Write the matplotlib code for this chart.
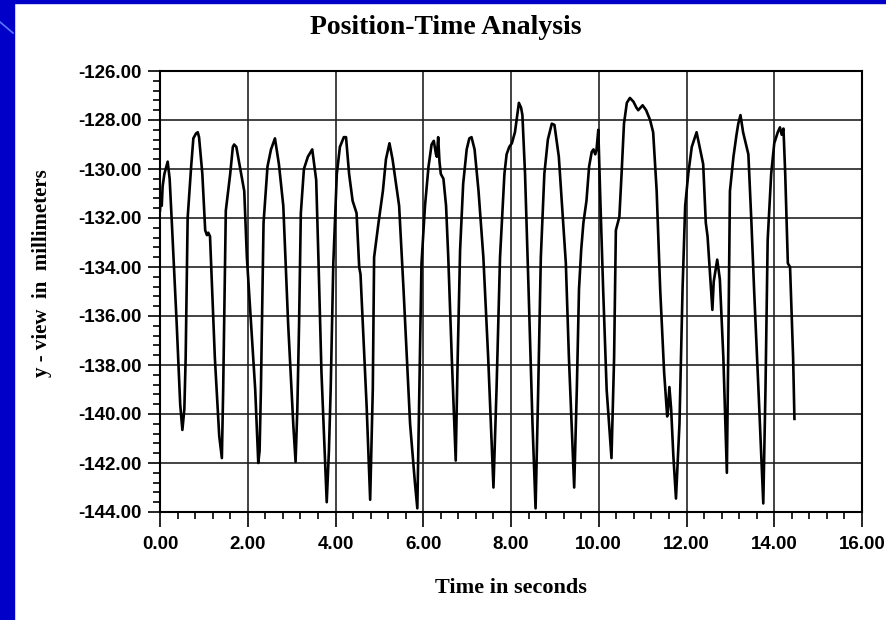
import numpy as np
import matplotlib.pyplot as plt
from matplotlib.lines import Line2D
from matplotlib.patches import Rectangle
from matplotlib.ticker import MultipleLocator, FormatStrFormatter

# time (s) and y-view position (mm)
t = [0.00, 0.02, 0.04, 0.06, 0.10, 0.175, 0.22, 0.27, 0.38, 0.46, 0.51,
     0.555, 0.585, 0.63, 0.71, 0.76, 0.82, 0.86, 0.89, 0.965, 1.03, 1.07, 1.10, 1.14, 1.25, 1.35, 1.41,
     1.44, 1.50, 1.60, 1.66, 1.69, 1.74, 1.85, 1.92, 1.98, 2.17, 2.24,
     2.27, 2.30, 2.36, 2.45, 2.53, 2.62, 2.71, 2.81, 2.92, 3.04, 3.09,
     3.13, 3.17, 3.21, 3.28, 3.37, 3.47, 3.56, 3.61, 3.68, 3.80,
     3.85, 3.89, 3.95, 4.03, 4.10, 4.19, 4.24, 4.31, 4.39, 4.48, 4.54, 4.57, 4.71, 4.79,
     4.85, 4.88, 4.98, 5.08, 5.15, 5.23, 5.30, 5.45, 5.55, 5.70, 5.81, 5.865,
     5.91, 5.96, 6.04, 6.12, 6.19, 6.24, 6.29, 6.31, 6.34, 6.37, 6.40, 6.46, 6.52, 6.57, 6.65, 6.74,
     6.785, 6.84, 6.91, 6.99, 7.05, 7.10, 7.17, 7.26, 7.37, 7.48, 7.60,
     7.67, 7.75, 7.85, 7.90, 7.96, 8.02, 8.09, 8.12, 8.18, 8.23, 8.26, 8.32, 8.40, 8.49, 8.56,
     8.62, 8.68, 8.76, 8.84, 8.93, 8.99, 9.09, 9.19, 9.25, 9.32, 9.44,
     9.50, 9.55, 9.60, 9.65, 9.72, 9.78, 9.84, 9.88, 9.92, 9.95, 9.99, 10.03, 10.10, 10.18, 10.29,
     10.35, 10.39, 10.47, 10.52, 10.575, 10.64, 10.71, 10.79, 10.86, 10.90, 11.00, 11.08, 11.17, 11.24,
     11.32, 11.40, 11.49, 11.56, 11.58, 11.61, 11.65, 11.70, 11.76,
     11.84, 11.91, 11.97, 12.04, 12.12, 12.23, 12.31, 12.38, 12.44, 12.48, 12.54, 12.59, 12.62, 12.70,
     12.76, 12.84, 12.92,
     12.95, 12.99, 13.07, 13.14, 13.18, 13.23, 13.29, 13.41, 13.48, 13.54, 13.64, 13.75,
     13.80, 13.85, 13.93, 14.00, 14.08, 14.13, 14.17, 14.21, 14.25, 14.31, 14.36, 14.43, 14.46]
yv = [-131.7, -131.0, -131.5, -130.7, -130.2, -129.7, -130.4, -132.2, -136.3, -139.6, -140.65,
      -139.8, -137.7, -132.0, -129.9, -128.75, -128.55, -128.5, -128.7, -130.2, -132.5, -132.7, -132.6, -132.75, -137.7, -140.9, -141.8,
      -139.0, -131.7, -130.2, -129.1, -129.0, -129.1, -130.2, -130.9, -133.6, -139.0, -142.0,
      -141.5, -139.0, -132.2, -129.9, -129.2, -128.75, -129.8, -131.5, -136.3, -140.5, -141.95,
      -139.8, -136.3, -131.8, -130.0, -129.5, -129.2, -130.45, -133.6, -138.3, -143.6,
      -141.5, -139.0, -133.85, -130.2, -129.1, -128.7, -128.7, -130.2, -131.3, -131.8, -134.0, -134.3, -139.7, -143.5,
      -139.0, -133.6, -132.2, -130.9, -129.6, -128.95, -129.6, -131.5, -134.9, -140.4, -142.8, -143.85,
      -139.0, -133.85, -131.5, -129.9, -129.0, -128.85, -129.4, -129.5, -128.7, -129.7, -130.2, -130.4, -131.5, -133.6, -137.7, -141.9,
      -137.7, -133.3, -130.6, -129.2, -128.75, -128.7, -129.2, -130.9, -133.6, -137.7, -143.0,
      -139.0, -133.6, -130.2, -129.4, -129.1, -128.95, -128.5, -128.1, -127.3, -127.5, -127.8, -130.2, -134.9, -140.4, -143.85,
      -139.0, -133.6, -130.2, -128.8, -128.15, -128.2, -129.5, -132.2, -133.85, -137.7, -143.0,
      -139.0, -134.9, -133.3, -132.2, -131.3, -129.9, -129.3, -129.2, -129.4, -129.2, -128.4, -130.9, -134.9, -139.0, -141.8,
      -137.7, -132.5, -131.95, -130.2, -128.15, -127.3, -127.1, -127.25, -127.5, -127.6, -127.4, -127.6, -128.0, -128.5,
      -130.9, -134.9, -138.3, -140.1, -139.8, -138.9, -139.8, -141.7, -143.45,
      -140.4, -134.9, -131.5, -130.2, -129.1, -128.5, -129.2, -129.8, -132.2, -132.75, -134.4, -135.75, -134.6, -133.7,
      -134.5, -137.7, -142.4,
      -137.7, -130.9, -129.5, -128.6, -128.15, -127.8, -128.5, -129.4, -132.2, -134.9, -139.0, -143.65,
      -139.0, -132.9, -130.2, -128.95, -128.5, -128.3, -128.6, -128.35, -130.2, -133.85, -134.0, -137.7, -140.2]

fig = plt.figure(figsize=(8.86, 6.2), dpi=100)
fig.patch.set_facecolor("white")

# slide background: blue strips on the left and top
blue = "#0000c8"
fig.patches.append(Rectangle((0, 0), 14 / 886, 1, transform=fig.transFigure, color=blue, zorder=0))
fig.patches.append(Rectangle((0, 1 - 3 / 620), 1, 3 / 620, transform=fig.transFigure, color=blue, zorder=0))
fig.lines.append(Line2D([0, 13 / 886], [1 - 22 / 620, 1 - 33 / 620], transform=fig.transFigure,
                        color="#5a78ff", lw=1.2))

ax = fig.add_axes([160 / 886, 1 - 512 / 620, 702 / 886, 441 / 620])
ax.plot(t, yv, color="black", lw=1.9, zorder=3, solid_joinstyle="round")

ax.set_xlim(0, 16)
ax.set_ylim(-144, -126)
ax.xaxis.set_major_locator(MultipleLocator(2))
ax.xaxis.set_minor_locator(MultipleLocator(0.4))
ax.yaxis.set_major_locator(MultipleLocator(2))
ax.yaxis.set_minor_locator(MultipleLocator(0.4))
ax.xaxis.set_major_formatter(FormatStrFormatter("%.2f"))
ax.yaxis.set_major_formatter(FormatStrFormatter("%.2f"))
ax.grid(True, which="major", color="#222222", lw=1.2, zorder=1)
for s in ax.spines.values():
    s.set_linewidth(1.5)
ax.tick_params(axis="x", which="major", length=11, width=1.2, pad=6)
ax.tick_params(axis="y", which="major", length=9, width=1.2, pad=4)
ax.tick_params(which="minor", length=5, width=1.2)
for lab in ax.get_xticklabels() + ax.get_yticklabels():
    lab.set_fontfamily("Liberation Sans")
    lab.set_fontweight("bold")
    lab.set_fontsize(13.5)

fig.text(446 / 886, 1 - 28 / 620, "Position-Time Analysis", ha="center", va="center",
         family="Liberation Serif", weight="bold", fontsize=20)
fig.text(511 / 886, 1 - 588 / 620, "Time in seconds", ha="center", va="center",
         family="Liberation Serif", weight="bold", fontsize=16)
fig.text(42 / 886, 1 - 273 / 620, "y - view  in  millimeters", ha="center", va="center",
         rotation=90, family="Liberation Serif", weight="bold", fontsize=15)

fig.savefig("out.png", dpi=100)
